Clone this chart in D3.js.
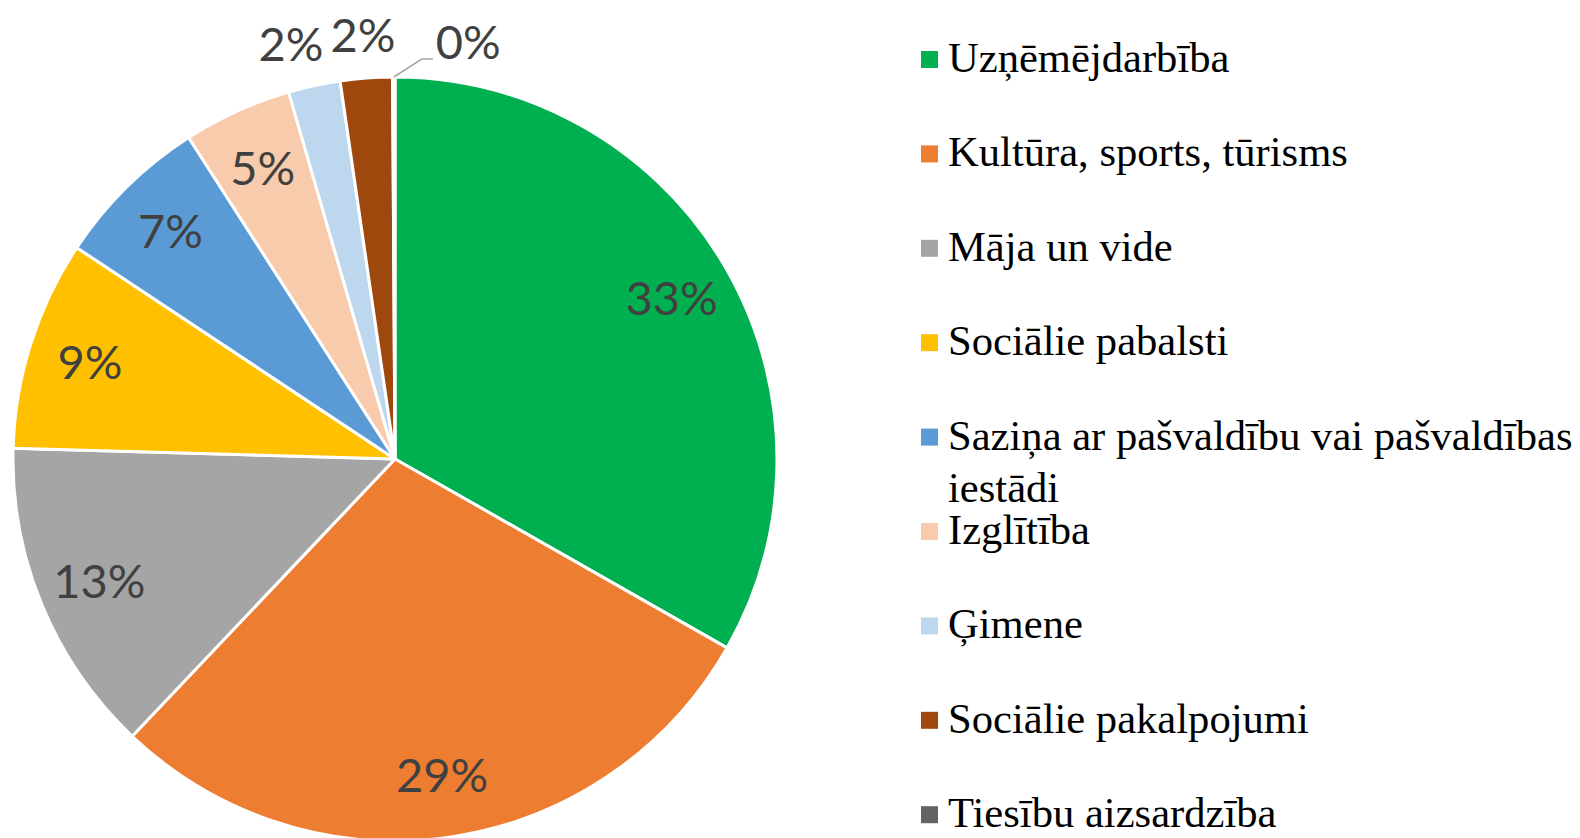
<!DOCTYPE html>
<html>
<head>
<meta charset="utf-8">
<script src="https://cdn.jsdelivr.net/npm/d3@7"></script>
<style>
  html, body { margin: 0; padding: 0; background: #fff; }
  svg { display: block; }
</style>
</head>
<body>
<svg id="chart" width="1580" height="838"></svg>
<script>
// categories and shares (percent of answers)
var categories = ["Uzņēmējdarbība", "Kultūra, sports, tūrisms", "Māja un vide", "Sociālie pabalsti",
  "Saziņa ar pašvaldību vai pašvaldības iestādi", "Izglītība", "Ģimene", "Sociālie pakalpojumi", "Tiesību aizsardzība"];
var shares = [33.3, 28.9, 13.4, 8.9, 6.6, 4.6, 2.2, 2.2, 0.1];
var colors = ["#00B050", "#ED7D31", "#A5A5A5", "#FFC000", "#5B9BD5", "#F8CBAD", "#BDD7EE", "#9E480E", "#636363"];
// legend lines (wrapped like the original)
var legendLines = [["Uzņēmējdarbība"], ["Kultūra, sports, tūrisms"], ["Māja un vide"], ["Sociālie pabalsti"],
  ["Saziņa ar pašvaldību vai pašvaldības", "iestādi"], ["Izglītība"], ["Ģimene"], ["Sociālie pakalpojumi"], ["Tiesību aizsardzība"]];

var svg = d3.select("#chart"),
    cx = 395, cy = 459, R = 382;

var total = d3.sum(shares);
var data = categories.map(function(c, i) { return {name: c, value: shares[i], color: colors[i]}; });

var pie = d3.pie().sort(null).value(function(d) { return d.value; });
var arcs = pie(data);
var arc = d3.arc().innerRadius(0).outerRadius(R);
var labelArc = d3.arc().innerRadius(2 * 320 - R).outerRadius(R); // centroid at r=320

var g = svg.append("g").attr("transform", "translate(" + cx + "," + cy + ")");

g.selectAll("path.slice")
  .data(arcs)
  .enter().append("path")
    .attr("class", "slice")
    .attr("d", arc)
    .attr("fill", function(d) { return d.data.color; })
    .attr("stroke", "#fff")
    .attr("stroke-width", 3)
    .attr("stroke-linejoin", "round");

function pct(d) { return Math.round(d.data.value / total * 100) + "%"; }
function mid(d) { return (d.startAngle + d.endAngle) / 2; }

var labelFont = "Lato, 'Open Sans', sans-serif";
var labelSize = 47;
var inside = arcs.filter(function(d) { return d.data.value / total >= 0.04; });
var outside = arcs.filter(function(d) { return d.data.value / total < 0.04 && d.data.value / total >= 0.01; });
var tiny = arcs.filter(function(d) { return d.data.value / total < 0.01; });

g.selectAll("text.in")
  .data(inside)
  .enter().append("text")
    .attr("class", "in")
    .attr("transform", function(d) { return "translate(" + labelArc.centroid(d) + ")"; })
    .attr("text-anchor", "middle")
    .attr("dy", "0.36em")
    .attr("font-family", labelFont)
    .attr("font-size", labelSize)
    .attr("fill", "#404040")
    .text(pct);

// outside labels: radial, then pushed apart horizontally
var outPos = outside.map(function(d) {
  var a = mid(d), r = 425;
  return {d: d, x: r * Math.sin(a), y: -r * Math.cos(a)};
});
for (var i = outPos.length - 2; i >= 0; i--) {
  if (outPos[i + 1].x - outPos[i].x < 72) outPos[i].x = outPos[i + 1].x - 72;
}
g.selectAll("text.out")
  .data(outPos)
  .enter().append("text")
    .attr("class", "out")
    .attr("x", function(p) { return p.x; })
    .attr("y", function(p) { return p.y; })
    .attr("text-anchor", "middle")
    .attr("dy", "0.36em")
    .attr("font-family", labelFont)
    .attr("font-size", labelSize)
    .attr("fill", "#404040")
    .text(function(p) { return pct(p.d); });

// tiny slice: leader line + label
tiny.forEach(function(d) {
  var a = mid(d);
  var sx = R * Math.sin(a), sy = -R * Math.cos(a);
  var ex = sx + 28, ey = sy - 18;
  g.append("polyline")
    .attr("points", [[sx, sy], [ex, ey], [ex + 11, ey]].map(function(p) { return p.join(","); }).join(" "))
    .attr("fill", "none")
    .attr("stroke", "#A6A6A6")
    .attr("stroke-width", 1.5);
  g.append("text")
    .attr("x", ex + 14)
    .attr("y", ey)
    .attr("font-family", labelFont)
    .attr("font-size", labelSize)
    .attr("fill", "#404040")
    .text(pct(d));
});

// legend
var legend = svg.append("g")
  .attr("font-family", "'Liberation Serif', 'Times New Roman', serif")
  .attr("font-size", 42.6)
  .attr("fill", "#000");

var item = legend.selectAll("g")
  .data(data)
  .enter().append("g")
    .attr("transform", function(d, i) { return "translate(921," + (72 + i * 94.4) + ")"; });

item.append("rect")
  .attr("x", 0)
  .attr("y", -21)
  .attr("width", 17)
  .attr("height", 17)
  .attr("fill", function(d) { return d.color; });

item.append("text")
  .attr("x", 27)
  .attr("y", 0)
  .selectAll("tspan")
  .data(function(d, i) { return legendLines[i]; })
  .enter().append("tspan")
    .attr("x", 27)
    .attr("dy", function(t, j) { return j === 0 ? 0 : 52; })
    .text(function(t) { return t; });
</script>
</body>
</html>
